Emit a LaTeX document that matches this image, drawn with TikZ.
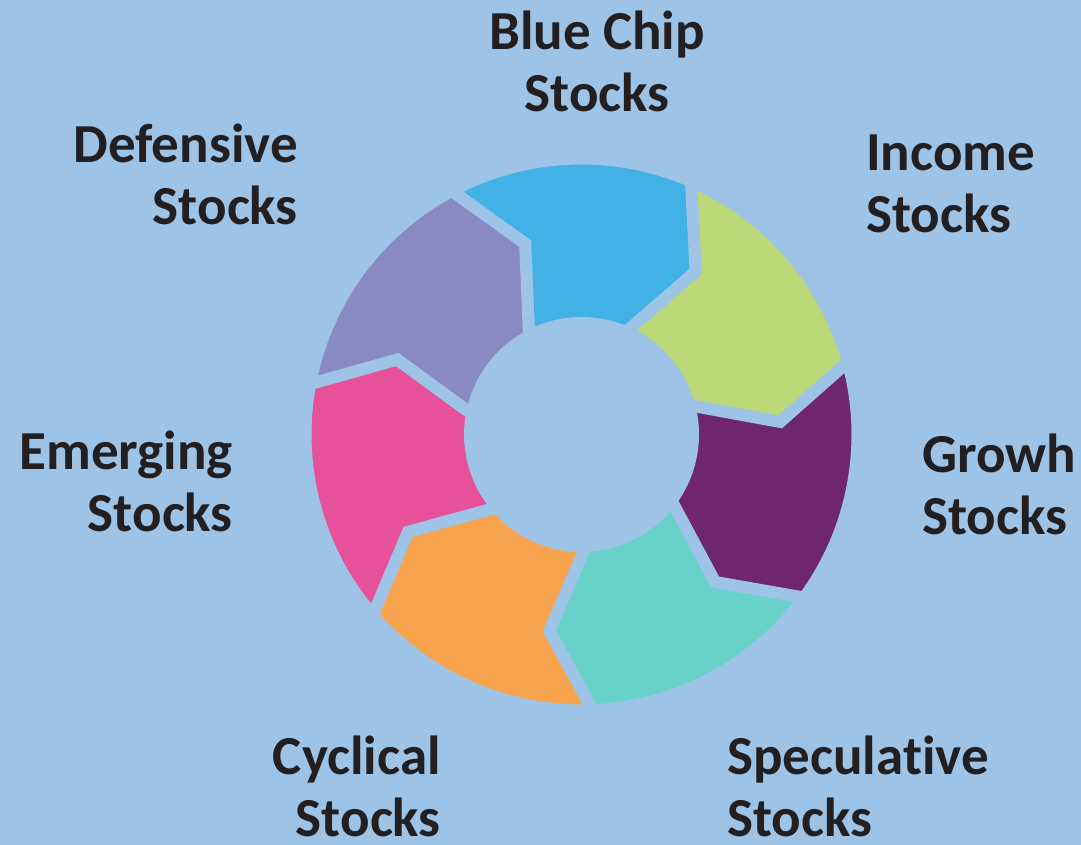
\documentclass[tikz,border=0pt]{standalone}
\usepackage{fontspec}
\setmainfont[Ligatures=NoCommon]{Carlito}
\definecolor{bg}{HTML}{9DC3E6}
\definecolor{ink}{HTML}{231F20}
\definecolor{income}{HTML}{BBD879}
\definecolor{bluechip}{HTML}{42B1E5}
\definecolor{defensive}{HTML}{8A8AC3}
\definecolor{emerging}{HTML}{E6519A}
\definecolor{cyclical}{HTML}{F8A44E}
\definecolor{speculative}{HTML}{68D2C8}
\definecolor{growth}{HTML}{70266E}

\begin{document}
\begin{tikzpicture}[x=1pt,y=1pt,
    lbl/.style={font=\fontsize{55}{62}\selectfont\bfseries, text=ink, inner sep=0pt},
    seg/.style={draw=bg, line width=12pt, line join=miter}]
  \fill[bg] (0,0) rectangle (1081,845);
  \useasboundingbox (0,0) rectangle (1081,845);
  \coordinate (c) at (581.5,410.5);
  % ring of chevrons, clockwise
  \begin{scope}[shift={(c)}]
    \foreach \col [count=\i from 0] in {income,bluechip,defensive,emerging,cyclical,speculative,growth} {
      \pgfmathsetmacro\a{15.2+51.43*\i}
      \pgfmathsetmacro\e{15.2+51.43*(\i+1)}
      \filldraw[seg, fill=\col] (\e:276) arc[start angle=\e, end angle=\a, radius=276]
        -- ({\a-11.6}:199) -- (\a:111.5) arc[start angle=\a, end angle=\e, radius=111.5]
        -- ({\e-11.6}:199) -- cycle;
    }
  \end{scope}
  % labels (base = last line)
  \node[lbl, align=center, anchor=base] (bluechip) at (597,733) {Blue Chip\\Stocks};
  \node[lbl, align=left, anchor=base west] (income) at (866,612) {Income\\Stocks};
  \node[lbl, align=left, anchor=base west] (growth) at (922,310) {Growh\\Stocks};
  \node[lbl, align=left, anchor=base west] (speculative) at (727,8) {Speculative\\Stocks};
  \node[lbl, align=right, anchor=base east] (cyclical) at (441,8) {Cyclical\\Stocks};
  \node[lbl, align=right, anchor=base east] (emerging) at (233,313) {Emerging\\Stocks};
  \node[lbl, align=right, anchor=base east] (defensive) at (298,620) {Defensive\\Stocks};
\end{tikzpicture}
\end{document}
